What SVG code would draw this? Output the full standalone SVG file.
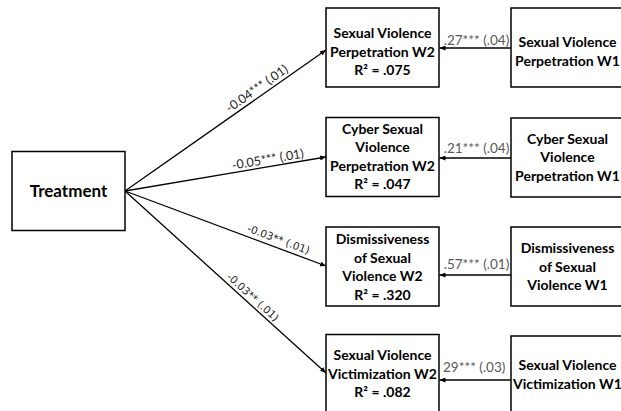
<svg xmlns="http://www.w3.org/2000/svg" width="621" height="411" viewBox="0 0 621 411">
<style>
.box{fill:#fff;stroke:#000;stroke-width:1.5}
.nt{font-family:Lato,"Open Sans","Liberation Sans",sans-serif;font-weight:bold;font-size:14px;fill:#000;text-anchor:middle}
.tt{font-size:17px}
.ln{stroke:#000;stroke-width:1.3;fill:none;marker-end:url(#ah)}
.lb{font-family:Lato,"Open Sans","Liberation Sans",sans-serif;font-size:12.5px;fill:#1a1a1a;text-anchor:middle}
.lb2{font-family:"DejaVu Sans",sans-serif;font-size:10.5px;fill:#1a1a1a;text-anchor:middle}
.hl{font-family:Lato,"Open Sans","Liberation Sans",sans-serif;font-size:13.5px;fill:#595959}
</style>
<defs>
<marker id="ah" markerWidth="6" markerHeight="5" refX="6" refY="2.5" orient="auto" markerUnits="userSpaceOnUse">
<path d="M0,0 L6,2.5 L0,5 Z" fill="#000"/>
</marker>
</defs>
<rect width="621" height="411" fill="#fff"/>
<g id="connectors">
<line class="ln" x1="125" y1="191" x2="326" y2="50"/>
<line class="ln" x1="125" y1="191" x2="326" y2="157"/>
<line class="ln" x1="125" y1="191" x2="326" y2="266"/>
<line class="ln" x1="125" y1="191" x2="326" y2="373"/>
<line class="ln" x1="511" y1="48" x2="439.5" y2="48"/>
<line class="ln" x1="511" y1="158" x2="439.5" y2="158"/>
<line class="ln" x1="511" y1="275" x2="439.5" y2="275"/>
<line class="ln" x1="511" y1="380" x2="439.5" y2="380"/>
<text class="lb" transform="translate(261,94.5) rotate(-35.2)" y="-3">-0.04*** (.01)</text>
<text class="lb" transform="translate(269,166.5) rotate(-9.65)" y="-3">-0.05*** (.01)</text>
<text class="lb2" transform="translate(275.5,247.4) rotate(20.56)" y="-5">-0.03** (.01)</text>
<text class="lb2" transform="translate(247.8,302.8) rotate(42.3)" y="-4">-0.03** (.01)</text>
<text class="hl" x="476.5" y="45" text-anchor="middle">.27*** (.04)</text>
<text class="hl" x="476.5" y="152.5" text-anchor="middle">.21*** (.04)</text>
<text class="hl" x="476.5" y="268.5" text-anchor="middle">.57*** (.01)</text>
<text class="hl" x="443" y="372">29*** (.03)</text>
</g>
<g id="treatment">
<rect class="box" x="12" y="151.5" width="113" height="79"/>
<text class="nt tt" x="68.5" y="197">Treatment</text>
</g>
<g id="svp-w2">
<rect class="box" x="326" y="8" width="113" height="79"/>
<text class="nt" x="382.5" y="38">Sexual Violence</text>
<text class="nt" x="382.5" y="56.5">Perpetration W2</text>
<text class="nt" x="382.5" y="75">R² = .075</text>
</g>
<g id="csvp-w2">
<rect class="box" x="326" y="117.5" width="113" height="79"/>
<text class="nt" x="382.5" y="133.5">Cyber Sexual</text>
<text class="nt" x="382.5" y="152">Violence</text>
<text class="nt" x="382.5" y="170.5">Perpetration W2</text>
<text class="nt" x="382.5" y="189">R² = .047</text>
</g>
<g id="dsv-w2">
<rect class="box" x="326" y="227" width="113" height="79"/>
<text class="nt" x="382.5" y="244">Dismissiveness</text>
<text class="nt" x="382.5" y="262.5">of Sexual</text>
<text class="nt" x="382.5" y="281">Violence W2</text>
<text class="nt" x="382.5" y="299.5">R² = .320</text>
</g>
<g id="svv-w2">
<rect class="box" x="326" y="334.5" width="113" height="80"/>
<text class="nt" x="382.5" y="360">Sexual Violence</text>
<text class="nt" x="382.5" y="378.5">Victimization W2</text>
<text class="nt" x="382.5" y="397">R² = .082</text>
</g>
<g id="svp-w1">
<rect class="box" x="511" y="8" width="114" height="79"/>
<text class="nt" x="567.5" y="47">Sexual Violence</text>
<text class="nt" x="567.5" y="65.5">Perpetration W1</text>
</g>
<g id="csvp-w1">
<rect class="box" x="511" y="118" width="114" height="79"/>
<text class="nt" x="567.5" y="143.5">Cyber Sexual</text>
<text class="nt" x="567.5" y="162">Violence</text>
<text class="nt" x="567.5" y="180.5">Perpetration W1</text>
</g>
<g id="dsv-w1">
<rect class="box" x="511" y="227" width="114" height="79"/>
<text class="nt" x="567.5" y="253">Dismissiveness</text>
<text class="nt" x="567.5" y="271.5">of Sexual</text>
<text class="nt" x="567.5" y="290">Violence W1</text>
</g>
<g id="svv-w1">
<rect class="box" x="511" y="336" width="114" height="80"/>
<text class="nt" x="567.5" y="370">Sexual Violence</text>
<text class="nt" x="567.5" y="388.5">Victimization W1</text>
</g>
</svg>
